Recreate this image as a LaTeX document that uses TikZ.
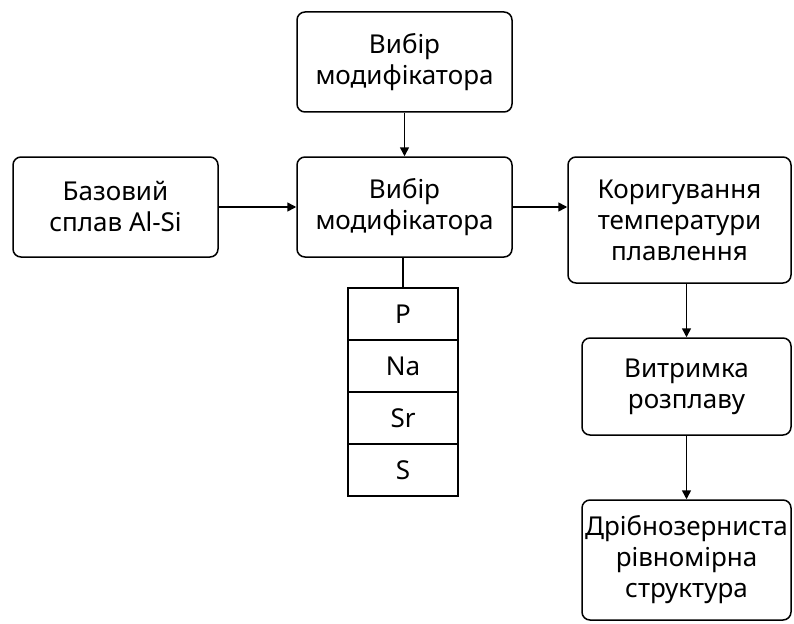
\documentclass[tikz,border=0pt]{standalone}
\usepackage{fontspec}
\setmainfont{Noto Sans}
\usetikzlibrary{arrows.meta}
\begin{document}
\begin{tikzpicture}[x=1pt,y=-1pt,
  box/.style={draw, line width=1.5pt, rounded corners=8pt, align=center, inner sep=0pt,
    font=\fontsize{26}{31}\selectfont},
  cell/.style={draw, line width=1.5pt, minimum width=110pt, minimum height=52pt, inner sep=0pt,
    font=\fontsize{26}{31}\selectfont},
  arr/.style={line width=1.5pt, -{Triangle[length=9pt,width=9pt]}},
  ln/.style={line width=1.5pt}]
\useasboundingbox (0,0) rectangle (794,623);
\node[box, minimum width=205pt, minimum height=100pt] (base) at (115.5,207) {Базовий\\сплав Al-Si};
\node[box, minimum width=215pt, minimum height=100pt] (top) at (404.5,62) {Вибір\\модифікатора};
\node[box, minimum width=215pt, minimum height=100pt] (mid) at (404.5,207) {Вибір\\модифікатора};
\node[box, minimum width=223pt, minimum height=126pt] (cor) at (679.5,220) {Коригування\\температури\\плавлення};
\node[box, minimum width=209pt, minimum height=97pt] (hold) at (686.5,386.5) {Витримка\\розплаву};
\node[box, minimum width=209pt, minimum height=120pt] (res) at (686.5,560) {Дрібнозерниста\\рівномірна\\структура};
\node[cell] (p) at (403,314) {P};
\node[cell] (na) at (403,366) {Na};
\node[cell] (sr) at (403,418) {Sr};
\node[cell] (s) at (403,470) {S};
\draw[arr] (top) -- (mid);
\draw[arr] (base) -- (mid);
\draw[arr] (mid) -- (mid -| cor.west);
\draw[arr] (cor.south -| hold) -- (hold);
\draw[arr] (hold) -- (res);
\draw[ln] (mid.south -| p) -- (p);
\end{tikzpicture}
\end{document}
